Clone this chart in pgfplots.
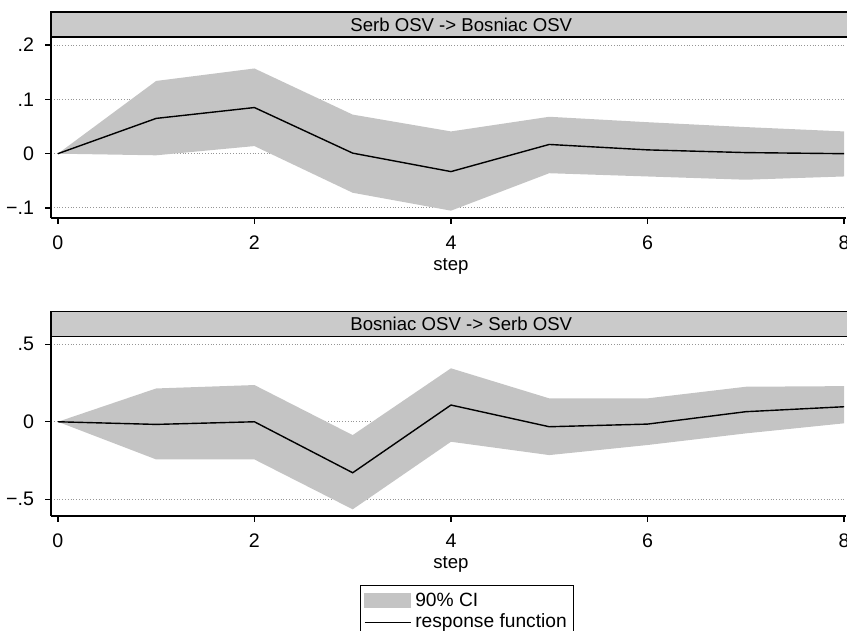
\documentclass[border=0pt]{standalone}
\usepackage{fontspec}
\setmainfont{Liberation Sans}
\usepackage{pgfplots}
\pgfplotsset{compat=1.18}
\usepgfplotslibrary{fillbetween}

\definecolor{cigray}{RGB}{196,196,196}
\definecolor{stripgray}{RGB}{202,202,202}
\definecolor{gridgray}{RGB}{150,150,150}

% impulse response, Serb OSV -> Bosniac OSV
\pgfplotstableread{
step resp upper lower
0  0.000  0.000  0.000
1  0.065  0.134 -0.003
2  0.085  0.157  0.014
3  0.001  0.072 -0.072
4 -0.033  0.041 -0.105
5  0.017  0.068 -0.036
6  0.007  0.058 -0.042
7  0.002  0.049 -0.048
8  0.000  0.041 -0.042
}\serbbos

% impulse response, Bosniac OSV -> Serb OSV
\pgfplotstableread{
step resp upper lower
0  0.000  0.000  0.000
1 -0.017  0.215 -0.243
2  0.000  0.237 -0.243
3 -0.329 -0.086 -0.565
4  0.108  0.345 -0.129
5 -0.032  0.151 -0.215
6 -0.015  0.151 -0.150
7  0.065  0.226 -0.075
8  0.097  0.230 -0.010
}\bosserb

\pgfplotsset{
  irf/.style={
    scale only axis,
    width=397.5pt,
    xmin=-0.07, xmax=8.02,
    axis x line*=bottom,
    axis y line*=left,
    axis line style={black, line width=0.8pt},
    tick style={black, line width=0.7pt},
    tick align=outside,
    major tick length=3pt,
    xtick={0,2,4,6,8},
    xticklabels={0,2,4,6,8},
    xlabel={step},
    x label style={at={(axis description cs:0.503,0)}, anchor=center, yshift=-24pt},
    ymajorgrids,
    major grid style={densely dotted, gridgray, line width=0.5pt},
    font=\fontsize{9.3}{11}\selectfont,
    tick label style={font=\fontsize{9.8}{11}\selectfont},
    x tick label style={yshift=-2.5pt},
    y tick label style={xshift=-2pt},
    clip=false,
  },
}

\begin{document}
\begin{tikzpicture}

% top panel
\begin{axis}[irf,
    at={(25.5pt,206.5pt)}, anchor=south west,
    height=90.5pt,
    ymin=-0.1185, ymax=0.215,
    ytick={-0.1,0,0.1,0.2},
    yticklabels={−.1,0,.1,.2},
]
\addplot[name path=up, draw=none] table[x=step, y=upper] {\serbbos};
\addplot[name path=lo, draw=none] table[x=step, y=lower] {\serbbos};
\addplot[cigray] fill between[of=up and lo];
\addplot[black, line width=0.7pt] table[x=step, y=resp] {\serbbos};
\draw[fill=stripgray, line width=0.8pt] (rel axis cs:0,1) rectangle ([yshift=12.5pt]rel axis cs:1.03,1);
\node at ([yshift=6.25pt]rel axis cs:0.516,1) {Serb OSV -> Bosniac OSV};
\end{axis}

% bottom panel
\begin{axis}[irf,
    at={(25.5pt,57.5pt)}, anchor=south west,
    height=89.65pt,
    ymin=-0.608, ymax=0.549,
    ytick={-0.5,0,0.5},
    yticklabels={−.5,0,.5},
    legend style={at={(0.389,0)}, anchor=north west, yshift=-34.5pt,
      draw=black, line width=0.6pt, inner sep=1.5pt, row sep=-1.5pt,
      font=\fontsize{9.6}{11}\selectfont},
    legend cell align=left,
]
\addplot[name path=up2, draw=none, forget plot] table[x=step, y=upper] {\bosserb};
\addplot[name path=lo2, draw=none, forget plot] table[x=step, y=lower] {\bosserb};
\addplot[cigray, forget plot] fill between[of=up2 and lo2];
\addplot[black, line width=0.7pt, forget plot] table[x=step, y=resp] {\bosserb};
\addlegendimage{legend image code/.code={\fill[cigray] (0pt,-3.5pt) rectangle (23pt,3.5pt);}}
\addlegendentry{90\% CI}
\addlegendimage{legend image code/.code={\draw[black, line width=0.7pt] (0pt,0pt) -- (23pt,0pt);}}
\addlegendentry{response function}
\draw[fill=stripgray, line width=0.8pt] (rel axis cs:0,1) rectangle ([yshift=12.5pt]rel axis cs:1.03,1);
\node at ([yshift=6.25pt]rel axis cs:0.516,1) {Bosniac OSV -> Serb OSV};
\end{axis}

\pgfresetboundingbox
\useasboundingbox (0,0) rectangle (423.5pt,315.5pt);
\end{tikzpicture}
\end{document}
